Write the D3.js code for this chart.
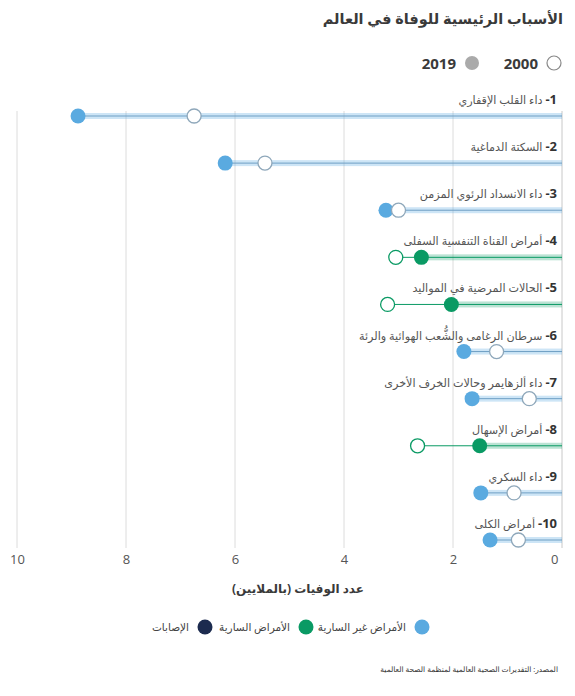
<!DOCTYPE html>
<html>
<head>
<meta charset="utf-8">
<script src="https://cdn.jsdelivr.net/npm/d3@7"></script>
<style>
  body { margin: 0; background: #fff; }
  svg { font-family: "Open Sans", "DejaVu Sans", sans-serif; }
</style>
</head>
<body>
<div id="chart"></div>
<script>
// data (millions of deaths)
const causes = [
  "داء القلب الإقفاري",
  "السكتة الدماغية",
  "داء الانسداد الرئوي المزمن",
  "أمراض القناة التنفسية السفلى",
  "الحالات المرضية في المواليد",
  "سرطان الرغامى والشُّعب الهوائية والرئة",
  "داء ألزهايمر وحالات الخرف الأخرى",
  "أمراض الإسهال",
  "داء السكري",
  "أمراض الكلى"
]
const deaths2000 = [6.75, 5.45, 3.0, 3.05, 3.2, 1.2, 0.6, 2.65, 0.88, 0.8]
const deaths2019 = [8.88, 6.18, 3.23, 2.58, 2.03, 1.8, 1.65, 1.51, 1.49, 1.32]
const groups = ["ncd", "ncd", "ncd", "cd", "cd", "ncd", "ncd", "cd", "ncd", "ncd"]
const xTicks = [10, 8, 6, 4, 2, 0]
const legendYears = ["2000", "2019"]
const legendGroups = ["الأمراض غير السارية", "الأمراض السارية", "الإصابات"]

const width = 575, height = 696
const padding = { top: 116, right: 13, bottom: 156, left: 17 }

const colors = {
  ncd: { dot: "#5aaae0", line: "#6f9fc4", band: "rgba(90, 170, 225, 0.3)" },
  cd: { dot: "#0a9a64", line: "#0a9a64", band: "rgba(10, 154, 100, 0.28)" },
  inj: { dot: "#1c2b4f" }
}

const svg = d3.select("#chart")
  .append("svg")
  .attr("width", width)
  .attr("height", height)

const xScale = d3.scaleLinear()
  .domain([10, 0])
  .range([padding.left, width - padding.right])
const yScale = d3.scalePoint()
  .domain(causes)
  .range([padding.top, height - padding.bottom])

// title
svg.append("text")
  .attr("x", 563).attr("y", 24)
  .attr("direction", "rtl")
  .attr("text-anchor", "start")
  .attr("font-size", 14.5).attr("font-weight", "bold")
  .attr("fill", "#3a3a3a")
  .text("الأسباب الرئيسية للوفاة في العالم")

// year legend
const yl = svg.append("g")
yl.append("circle").attr("cx", 554).attr("cy", 63).attr("r", 7)
  .attr("fill", "#fff").attr("stroke", "#888").attr("stroke-width", 1.2)
yl.append("text").attr("x", 538).attr("y", 69).attr("text-anchor", "end")
  .attr("font-size", 15).attr("font-weight", "bold").attr("fill", "#3a3a3a")
  .text(legendYears[0])
yl.append("circle").attr("cx", 472).attr("cy", 63).attr("r", 7).attr("fill", "#aaa")
yl.append("text").attr("x", 456).attr("y", 69).attr("text-anchor", "end")
  .attr("font-size", 15).attr("font-weight", "bold").attr("fill", "#3a3a3a")
  .text(legendYears[1])

// grid
const gridTop = 111, gridBottom = 548
svg.append("g")
  .selectAll("line")
  .data(xTicks)
  .join("line")
  .attr("x1", d => xScale(d)).attr("x2", d => xScale(d))
  .attr("y1", gridTop).attr("y2", gridBottom)
  .attr("stroke", d => d === 0 ? "#c8c8c8" : "#dcdcdc")
  .attr("stroke-width", 1)

// x axis labels
const xAxis = d3.axisBottom(xScale)
  .tickValues(xTicks)
  .tickSize(0)
  .tickPadding(0)
  .tickFormat(d3.format("d"))
const axisG = svg.append("g")
  .attr("transform", "translate(0," + 555 + ")")
  .call(xAxis)
axisG.select(".domain").remove()
axisG.selectAll("text")
  .attr("font-size", 13)
  .attr("fill", "#555")
  .attr("font-family", "\"Open Sans\", sans-serif")
  .attr("text-anchor", d => d === 0 ? "end" : "middle")
  .attr("dx", d => d === 0 ? -4 : 0)

svg.append("text")
  .attr("x", 298).attr("y", 593)
  .attr("text-anchor", "middle")
  .attr("font-size", 12).attr("font-weight", "bold").attr("fill", "#3a3a3a")
  .text("عدد الوفيات (بالملايين)")

// rows
const rows = causes.map((c, i) => ({ cause: c, i: i, v0: deaths2000[i], v1: deaths2019[i], g: groups[i] }))
const row = svg.append("g")
  .selectAll("g")
  .data(rows)
  .join("g")

row.append("rect")
  .attr("x", d => xScale(d.v1))
  .attr("y", d => yScale(d.cause) - 3)
  .attr("width", d => xScale(0) - xScale(d.v1))
  .attr("height", 6)
  .attr("fill", d => colors[d.g].band)

row.append("line")
  .attr("x1", d => xScale(Math.max(d.v0, d.v1)))
  .attr("x2", xScale(0))
  .attr("y1", d => yScale(d.cause))
  .attr("y2", d => yScale(d.cause))
  .attr("stroke", d => colors[d.g].line)
  .attr("stroke-width", 1)

row.append("circle")
  .attr("cx", d => xScale(d.v1))
  .attr("cy", d => yScale(d.cause))
  .attr("r", 7.5)
  .attr("fill", d => colors[d.g].dot)

row.append("circle")
  .attr("cx", d => xScale(d.v0))
  .attr("cy", d => yScale(d.cause))
  .attr("r", 7)
  .attr("fill", "#fff")
  .attr("stroke", d => d.g === "cd" ? colors.cd.line : "#8ea7ba")
  .attr("stroke-width", 1.3)

const label = row.append("text")
  .attr("x", 557)
  .attr("y", d => yScale(d.cause) - 12)
  .attr("direction", "rtl")
  .attr("text-anchor", "start")
label.append("tspan")
  .attr("font-size", 13).attr("font-weight", "bold").attr("fill", "#333")
  .text(d => (d.i + 1) + "-")
label.append("tspan")
  .attr("font-size", 11.2).attr("fill", "#555")
  .text(d => " " + d.cause)

// group legend
const lg = svg.append("g")
const legendX = [422, 306, 205]
const legendKeys = ["ncd", "cd", "inj"]
legendGroups.forEach((t, i) => {
  lg.append("circle").attr("cx", legendX[i]).attr("cy", 627).attr("r", 7.5)
    .attr("fill", colors[legendKeys[i]].dot)
  lg.append("text").attr("x", legendX[i] - 16).attr("y", 631)
    .attr("direction", "rtl").attr("text-anchor", "start")
    .attr("font-size", 10.5).attr("fill", "#444")
    .text(t)
})

svg.append("text")
  .attr("x", 558).attr("y", 672)
  .attr("direction", "rtl").attr("text-anchor", "start")
  .attr("font-size", 7.5).attr("fill", "#333")
  .text("المصدر: التقديرات الصحية العالمية لمنظمة الصحة العالمية")
</script>
</body>
</html>
